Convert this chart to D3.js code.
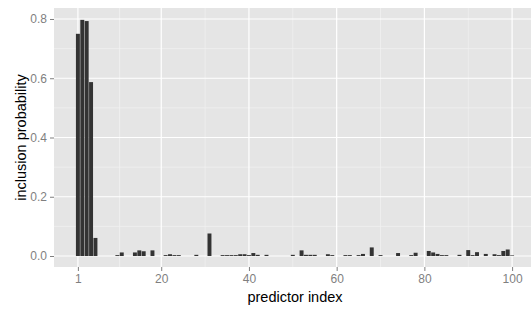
<!DOCTYPE html>
<html>
<head>
<meta charset="utf-8">
<script src="https://cdn.jsdelivr.net/npm/d3@7"></script>
<style>
  body { margin: 0; background: #fff; }
  svg { display: block; font-family: "Liberation Sans", Arial, sans-serif; }
  .tick text { fill: #7f7f7f; }
  .tick line { stroke: #7f7f7f; }
  .domain { display: none; }
</style>
</head>
<body>
<div id="chart"></div>
<script>
// inclusion probability for predictors 1..100
var inclusionProb = [
  0.750, 0.797, 0.793, 0.587, 0.061, 0, 0, 0, 0, 0.003,
  0.012, 0, 0, 0.012, 0.019, 0.016, 0, 0.019, 0, 0,
  0.003, 0.006, 0.003, 0.003, 0, 0, 0, 0.004, 0, 0,
  0.076, 0, 0, 0.003, 0.003, 0.003, 0.003, 0.006, 0.006, 0.003,
  0.010, 0.004, 0, 0.004, 0, 0, 0, 0, 0, 0.004,
  0, 0.019, 0.004, 0.004, 0.004, 0, 0, 0.006, 0.003, 0,
  0, 0.003, 0.003, 0, 0.003, 0.007, 0, 0.029, 0, 0.003,
  0, 0, 0, 0.010, 0, 0, 0.003, 0.011, 0, 0,
  0.017, 0.012, 0.007, 0.003, 0.003, 0, 0, 0.004, 0, 0.020,
  0.003, 0.013, 0, 0.007, 0, 0.006, 0.003, 0.017, 0.022, 0.002
];
var predictorIndex = d3.range(1, inclusionProb.length + 1);

var xTicks = [1, 20, 40, 60, 80, 100];
var xMinor = [10.5, 30, 50, 70, 90];
var yTicks = [0, 0.2, 0.4, 0.6, 0.8];
var yMinor = [0.1, 0.3, 0.5, 0.7];

var svgWidth = 531;
var svgHeight = 309;

// panel box (ggplot style, runs off the right edge)
var panel = { left: 54, top: 8, right: 536, bottom: 267 };

var svg = d3.select("#chart")
  .append("svg")
  .attr("width", svgWidth)
  .attr("height", svgHeight);

var xScale = d3.scaleLinear()
  .domain([-4.45, 105.45])
  .range([panel.left, panel.right]);

var yScale = d3.scaleLinear()
  .domain([-0.0371, 0.8371])
  .range([panel.bottom, panel.top]);

// panel background
svg.append("rect")
  .attr("x", panel.left)
  .attr("y", panel.top)
  .attr("width", panel.right - panel.left)
  .attr("height", panel.bottom - panel.top)
  .attr("fill", "#e5e5e5");

// minor grid
svg.selectAll(".xminor")
  .data(xMinor)
  .enter()
  .append("line")
  .attr("x1", d => xScale(d))
  .attr("x2", d => xScale(d))
  .attr("y1", panel.top)
  .attr("y2", panel.bottom)
  .attr("stroke", "#f2f2f2")
  .attr("stroke-width", 0.7);

svg.selectAll(".yminor")
  .data(yMinor)
  .enter()
  .append("line")
  .attr("x1", panel.left)
  .attr("x2", panel.right)
  .attr("y1", d => yScale(d))
  .attr("y2", d => yScale(d))
  .attr("stroke", "#f2f2f2")
  .attr("stroke-width", 0.7);

// major grid
svg.selectAll(".xmajor")
  .data(xTicks)
  .enter()
  .append("line")
  .attr("x1", d => xScale(d))
  .attr("x2", d => xScale(d))
  .attr("y1", panel.top)
  .attr("y2", panel.bottom)
  .attr("stroke", "#ffffff")
  .attr("stroke-width", 1.2);

svg.selectAll(".ymajor")
  .data(yTicks)
  .enter()
  .append("line")
  .attr("x1", panel.left)
  .attr("x2", panel.right)
  .attr("y1", d => yScale(d))
  .attr("y2", d => yScale(d))
  .attr("stroke", "#ffffff")
  .attr("stroke-width", 1.2);

// bars, width 0.9 of a unit
var barW = (xScale(1) - xScale(0)) * 0.9;

svg.append("g")
  .selectAll("rect")
  .data(predictorIndex)
  .enter()
  .append("rect")
  .attr("x", d => xScale(d) - barW / 2)
  .attr("y", d => yScale(inclusionProb[d - 1]))
  .attr("width", barW)
  .attr("height", d => yScale(0) - yScale(inclusionProb[d - 1]))
  .attr("fill", "#333333");

// axes
var bottomAxis = d3.axisBottom(xScale)
  .tickValues(xTicks)
  .tickSizeInner(4)
  .tickSizeOuter(0)
  .tickPadding(3);

var leftAxis = d3.axisLeft(yScale)
  .tickValues(yTicks)
  .tickFormat(d3.format(".1f"))
  .tickSizeInner(4)
  .tickSizeOuter(0)
  .tickPadding(3);

svg.append("g")
  .attr("transform", `translate(0, ${panel.bottom})`)
  .style("font-size", "12px")
  .call(bottomAxis);

svg.append("g")
  .attr("transform", `translate(${panel.left}, 0)`)
  .style("font-size", "12px")
  .call(leftAxis);

// axis titles
svg.append("text")
  .attr("x", (panel.left + panel.right) / 2)
  .attr("y", 302)
  .attr("text-anchor", "middle")
  .style("font-size", "14.5px")
  .attr("fill", "#000")
  .text("predictor index");

svg.append("text")
  .attr("transform", `translate(26, ${(panel.top + panel.bottom) / 2}) rotate(-90)`)
  .attr("text-anchor", "middle")
  .style("font-size", "14.5px")
  .attr("fill", "#000")
  .text("inclusion probability");
</script>
</body>
</html>
